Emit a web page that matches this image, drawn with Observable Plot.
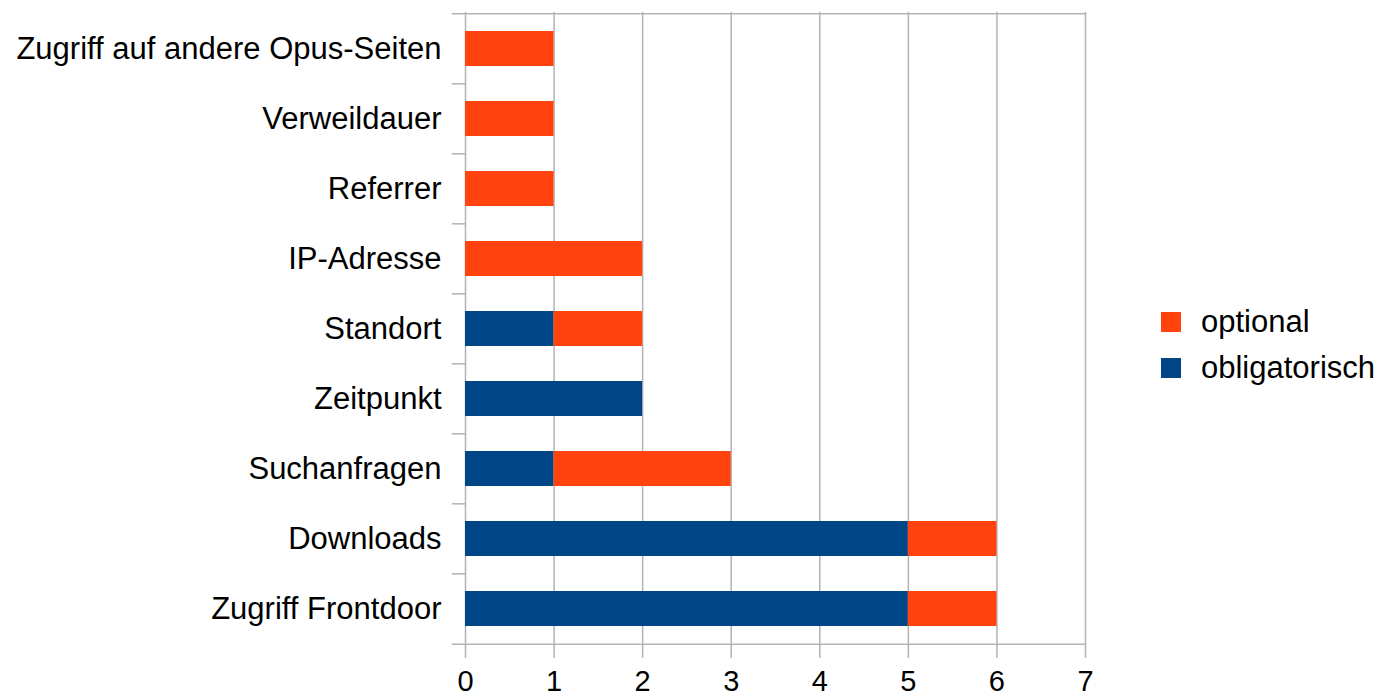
<!DOCTYPE html>
<html>
<head>
<meta charset="utf-8">
<script src="https://cdn.jsdelivr.net/npm/d3@7"></script>
<script src="https://cdn.jsdelivr.net/npm/@observablehq/plot@0.6"></script>
<style>
  html, body { margin: 0; padding: 0; background: #fff; }
  #wrap { position: relative; width: 1381px; height: 698px; font-family: "Liberation Sans", Arial, sans-serif; }
  #legend { position: absolute; left: 1161px; top: 299px; font-size: 31px; color: #000; white-space: nowrap; }
  .li { display: flex; align-items: center; height: 46px; }
  .sw { width: 20px; height: 20px; margin-right: 20px; flex: none; }
</style>
</head>
<body>
<div id="wrap"></div>
<script>
const categories = ["Zugriff auf andere Opus-Seiten", "Verweildauer", "Referrer", "IP-Adresse", "Standort", "Zeitpunkt", "Suchanfragen", "Downloads", "Zugriff Frontdoor"];
const obligatorisch = [0, 0, 0, 0, 1, 2, 1, 5, 5];
const optional = [1, 1, 1, 2, 1, 0, 2, 1, 1];
const seriesNames = ["obligatorisch", "optional"];
const seriesColors = ["#004586", "#ff420e"];
const xTicks = [0, 1, 2, 3, 4, 5, 6, 7];

const data = [];
categories.forEach((c, i) => {
  data.push({cat: c, series: "obligatorisch", value: obligatorisch[i]});
  data.push({cat: c, series: "optional", value: optional[i]});
});

const W = 1381, H = 698;
const mt = 12, mb = 53, ml = 465, mr = 296;
const step = (H - mt - mb) / categories.length;
const grid = "#b3b3b3";

const chart = Plot.plot({
  width: W, height: H,
  marginTop: mt, marginBottom: mb, marginLeft: ml, marginRight: mr,
  style: {fontFamily: "'Liberation Sans', Arial, sans-serif", fontSize: "31px", color: "#000", background: "#fff"},
  x: {domain: [0, 7], ticks: xTicks, label: null},
  y: {domain: categories, paddingInner: 0.5, paddingOuter: 0.25, label: null},
  color: {domain: seriesNames, range: seriesColors},
  marks: [
    Plot.ruleX(xTicks, {x: d => d, stroke: grid, strokeWidth: 1.5}),
    Plot.ruleY([categories[0]], {y: d => d, x1: -0.15, x2: 7, dy: -step / 2, stroke: grid, strokeWidth: 1.5}),
    Plot.ruleY(categories.slice(1), {y: d => d, x1: -0.15, x2: 0, dy: -step / 2, stroke: grid, strokeWidth: 1.5}),
    Plot.ruleY([categories[categories.length - 1]], {y: d => d, x1: -0.15, x2: 7, dy: step / 2, stroke: grid, strokeWidth: 1.5}),
    Plot.barX(data, Plot.stackX({y: "cat", x: "value", fill: "series", order: seriesNames})),
    Plot.axisX({ticks: xTicks, tickSize: 13, tickPadding: 12, stroke: grid, strokeWidth: 1.5, fill: "#000", fontSize: 29, tickFormat: d => String(d), label: null}),
    Plot.axisY({tickSize: 0, tickPadding: 24, fill: "#000", label: null})
  ]
});
chart.style.display = "block";
const wrap = document.getElementById("wrap");
wrap.appendChild(chart);

const legend = document.createElement("div");
legend.id = "legend";
[["optional", seriesColors[1]], ["obligatorisch", seriesColors[0]]].forEach(([name, col]) => {
  const row = document.createElement("div");
  row.className = "li";
  const sw = document.createElement("div");
  sw.className = "sw";
  sw.style.background = col;
  const t = document.createElement("span");
  t.textContent = name;
  row.appendChild(sw);
  row.appendChild(t);
  legend.appendChild(row);
});
wrap.appendChild(legend);
</script>
</body>
</html>
